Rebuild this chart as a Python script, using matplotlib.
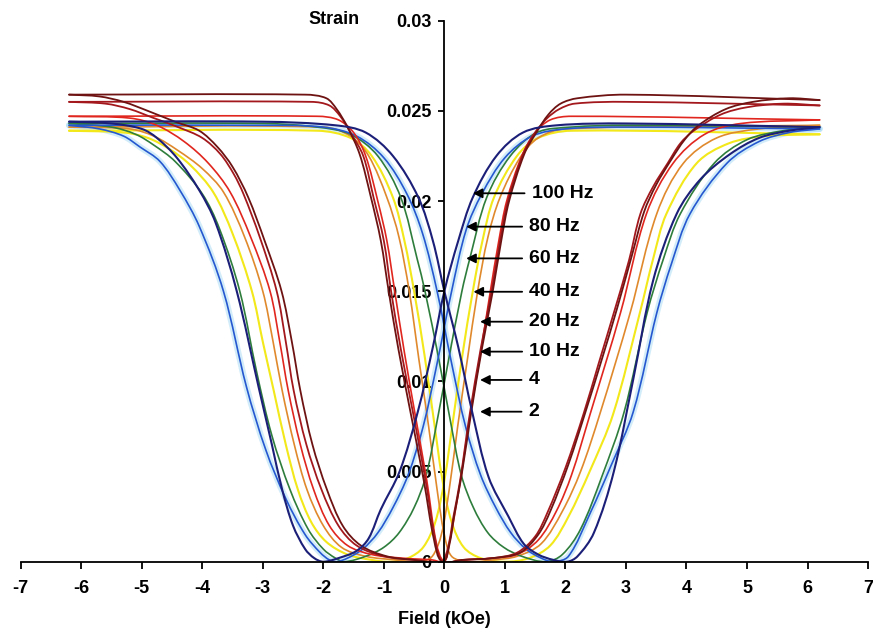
import numpy as np
import matplotlib
matplotlib.use('Agg')
import matplotlib.pyplot as plt
from matplotlib.path import Path
from matplotlib.patches import PathPatch

plt.rcParams['font.family'] = ['Liberation Sans', 'DejaVu Sans']
plt.rcParams['axes.unicode_minus'] = False

# ---------------- data (field kOe, strain) ----------------
freq_labels = ['100 Hz', '80 Hz', '60 Hz', '40 Hz', '20 Hz', '10 Hz', '4', '2']
line_colors = ['#1c1f78', '#2558d0', '#2e7d3c', '#f2e81a', '#e0892c', '#e0261e', '#a3181c', '#6e1212']

# branch with its minimum at negative field
hz100_neg = [(-6.2, .0244), (-5.5, .0243), (-5.0, .0240), (-4.75, .0235), (-4.42, .0224), (-4.05, .0206),
             (-3.78, .0188), (-3.43, .0150), (-3.07, .0097), (-2.85, .0065), (-2.68, .0040), (-2.5, .0020),
             (-2.3, .0007), (-2.15, .0002), (-2.0, .0000), (-1.75, .0002), (-1.45, .0006), (-1.25, .0013),
             (-1.05, .0029), (-0.74, .0050), (-0.44, .0083), (-0.19, .0119), (0.0, .0150), (0.23, .0178),
             (0.47, .0202), (0.86, .0225), (1.3, .0238), (1.86, .0242), (3.0, .0243), (6.2, .0241)]
# branch with its minimum at positive field
hz100_pos = [(-6.2, .0244), (-3.0, .0244), (-1.8, .0242), (-1.3, .0238), (-0.85, .0225), (-0.43, .0202),
             (-0.19, .0178), (0.0, .0150), (0.23, .0119), (0.46, .0083), (0.73, .0047), (1.06, .0025),
             (1.31, .0010), (1.55, .0004), (1.8, .0001), (2.03, .0000), (2.2, .0003), (2.47, .0016),
             (2.8, .0050), (3.12, .0101), (3.45, .0156), (3.84, .0193), (4.23, .0212), (4.72, .0226),
             (5.2, .0235), (5.7, .0239), (6.2, .0241)]

hz80_neg = [(-6.2, .0242), (-5.7, .0240), (-5.3, .0236), (-5.03, .0230), (-4.7, .0222), (-4.37, .0206),
            (-4.05, .0186), (-3.65, .0150), (-3.27, .0097), (-2.95, .0062), (-2.62, .0035), (-2.3, .0015),
            (-2.05, .0005), (-1.9, .0001), (-1.78, .0000), (-1.6, .0002), (-1.35, .0007), (-1.1, .0016),
            (-0.85, .0030), (-0.6, .0048), (-0.35, .0075), (-0.12, .0110), (0.12, .0150), (0.36, .0184),
            (0.62, .0204), (1.0, .0224), (1.45, .0236), (2.0, .0240), (3.0, .0241), (6.2, .0240)]
hz80_pos = [(-6.2, .0242), (-3.0, .0242), (-2.0, .0241), (-1.45, .0236), (-1.0, .0224), (-0.62, .0204),
            (-0.36, .0182), (-0.12, .0150), (0.12, .0110), (0.35, .0075), (0.6, .0048), (0.85, .0030),
            (1.1, .0016), (1.35, .0007), (1.6, .0002), (1.8, .0000), (2.05, .0003), (2.41, .0027),
            (2.75, .0053), (3.12, .0083), (3.51, .0138), (3.75, .0165), (4.06, .0193), (4.67, .0221),
            (5.2, .0233), (5.7, .0238), (6.2, .0240)]

hz60_neg = [(-6.2, .0243), (-5.5, .0241), (-5.1, .0237), (-4.8, .0231), (-4.45, .0222), (-4.0, .0204),
            (-3.72, .0185), (-3.38, .0150), (-3.1, .0105), (-2.85, .0070), (-2.55, .0040), (-2.25, .0018),
            (-2.0, .0007), (-1.8, .0002), (-1.65, .0000), (-1.3, .0003), (-1.0, .0008), (-0.75, .0016),
            (-0.5, .0030), (-0.3, .0048), (-0.12, .0078), (0.07, .0112), (0.29, .0150), (0.42, .0168),
            (0.7, .0202), (1.09, .0225), (1.53, .0238), (2.1, .0241), (3.0, .0242), (6.2, .0241)]
hz60_pos = [(-6.2, .0243), (-3.0, .0243), (-2.1, .0241), (-1.55, .0237), (-1.1, .0225), (-0.72, .0202),
            (-0.45, .0168), (-0.32, .0150), (-0.09, .0112), (0.1, .0078), (0.28, .0048), (0.48, .0030),
            (0.72, .0016), (0.98, .0008), (1.28, .0003), (1.68, .0000), (1.95, .0004), (2.25, .0018),
            (2.6, .0047), (2.97, .0083), (3.35, .0138), (3.62, .0168), (3.9, .0193), (4.46, .0221),
            (5.0, .0234), (5.6, .0239), (6.2, .0241)]

hz40_neg = [(-6.2, .0239), (-5.3, .0238), (-4.9, .0235), (-4.55, .0229), (-4.2, .0220), (-3.82, .0205),
            (-3.5, .0182), (-3.18, .0150), (-3.0, .0122), (-2.82, .0095), (-2.62, .0065), (-2.42, .0040),
            (-2.2, .0022), (-1.95, .0011), (-1.6, .0004), (-1.2, .0001), (-0.9, .0000), (-0.6, .0002),
            (-0.35, .0008), (-0.15, .0022), (0.0, .0045), (0.15, .0080), (0.3, .0115), (0.47, .0150),
            (0.63, .0178), (0.82, .0202), (1.2, .0225), (1.55, .0235), (2.1, .0239), (6.2, .0237)]
hz40_pos = [(-6.2, .0239), (-2.1, .0239), (-1.55, .0235), (-1.2, .0225), (-0.85, .0202), (-0.66, .0178),
            (-0.5, .0150), (-0.33, .0115), (-0.18, .0080), (-0.03, .0045), (0.12, .0022), (0.32, .0008),
            (0.6, .0002), (1.0, .0000), (1.4, .0002), (1.75, .0009), (2.05, .0025), (2.4, .0050),
            (2.79, .0082), (3.23, .0138), (3.45, .0168), (3.67, .0193), (4.17, .0221), (4.7, .0232),
            (5.3, .0236), (6.2, .0237)]

hz20_neg = [(-6.2, .0241), (-5.2, .0240), (-4.8, .0236), (-4.4, .0228), (-4.0, .0218), (-3.65, .0205),
            (-3.3, .0180), (-3.0, .0150), (-2.83, .0122), (-2.68, .0095), (-2.48, .0065), (-2.27, .0040),
            (-2.0, .0020), (-1.7, .0008), (-1.3, .0003), (-0.8, .0001), (-0.4, .0000), (-0.2, .0003),
            (-0.05, .0015), (0.08, .0040), (0.22, .0075), (0.38, .0112), (0.55, .0150), (0.72, .0180),
            (0.92, .0202), (1.25, .0224), (1.55, .0235), (2.0, .0240), (6.2, .0242)]
hz20_pos = [(-6.2, .0241), (-2.0, .0241), (-1.55, .0236), (-1.25, .0225), (-0.95, .0202), (-0.75, .0180),
            (-0.58, .0150), (-0.42, .0112), (-0.26, .0075), (-0.12, .0040), (0.0, .0015), (0.12, .0003),
            (0.4, .0000), (0.8, .0001), (1.2, .0003), (1.6, .0010), (1.95, .0028), (2.25, .0050),
            (2.57, .0082), (3.07, .0138), (3.51, .0193), (3.95, .0221), (4.5, .0235), (5.2, .0240),
            (6.2, .0242)]

hz10_neg = [(-6.2, .0247), (-5.2, .0246), (-4.75, .0242), (-4.3, .0233), (-3.9, .0221), (-3.54, .0205),
            (-3.2, .0180), (-2.88, .0150), (-2.72, .0122), (-2.58, .0095), (-2.38, .0065), (-2.16, .0040),
            (-1.9, .0020), (-1.6, .0009), (-1.2, .0004), (-0.7, .0002), (-0.2, .0001), (0.0, .0000),
            (0.08, .0010), (0.18, .0028), (0.28, .0048), (0.42, .0080), (0.6, .0116), (0.76, .0150),
            (0.9, .0178), (1.03, .0200), (1.28, .0225), (1.5, .0238), (1.75, .0245), (2.1, .0247),
            (6.2, .0245)]
hz10_pos = [(-6.2, .0247), (-2.1, .0247), (-1.75, .0245), (-1.5, .0238), (-1.3, .0225), (-1.1, .0200),
            (-0.95, .0178), (-0.82, .0150), (-0.66, .0116), (-0.49, .0083), (-0.29, .0045), (-0.13, .0010),
            (0.0, .0000), (0.3, .0001), (0.8, .0002), (1.2, .0004), (1.55, .0012), (1.85, .0028),
            (2.1, .0048), (2.41, .0082), (2.91, .0138), (3.34, .0193), (3.78, .0221), (4.3, .0237),
            (4.9, .0243), (6.2, .0245)]

hz4_neg = [(-6.2, .0255), (-5.6, .0254), (-5.2, .0251), (-4.8, .0246), (-4.4, .0241), (-4.0, .0235),
           (-3.7, .0226), (-3.48, .0215), (-3.32, .0204), (-3.05, .0180), (-2.77, .0150), (-2.62, .0122),
           (-2.49, .0095), (-2.28, .0065), (-2.03, .0040), (-1.75, .0020), (-1.45, .0009), (-1.0, .0003),
           (-0.5, .0001), (-0.05, .0000), (0.06, .0008), (0.15, .0025), (0.26, .0045), (0.42, .0082),
           (0.6, .0118), (0.78, .0150), (0.92, .0178), (1.05, .0200), (1.3, .0226), (1.5, .0238),
           (1.7, .0246), (1.9, .0251), (2.15, .0254), (3.0, .0255), (6.2, .0253)]
hz4_pos = [(-6.2, .0255), (-2.2, .0255), (-1.9, .0253), (-1.72, .0247), (-1.55, .0238), (-1.34, .0225),
           (-1.17, .0202), (-1.0, .0178), (-0.88, .0150), (-0.72, .0118), (-0.52, .0083), (-0.31, .0045),
           (-0.15, .0012), (-0.03, .0000), (0.3, .0001), (0.8, .0002), (1.2, .0005), (1.5, .0014),
           (1.7, .0027), (2.0, .0052), (2.3, .0082), (2.55, .0110), (2.8, .0138), (3.05, .0167),
           (3.24, .0193), (3.45, .0208), (3.69, .0221), (3.9, .0232), (4.12, .0239), (4.57, .0248),
           (5.0, .0252), (5.6, .0254), (6.2, .0253)]

hz2_neg = [(-6.2, .0259), (-5.7, .0258), (-5.3, .0255), (-4.9, .0250), (-4.45, .0244), (-4.05, .0239),
           (-3.75, .0230), (-3.5, .0219), (-3.24, .0202), (-2.97, .0178), (-2.69, .0150), (-2.52, .0122),
           (-2.38, .0095), (-2.18, .0065), (-1.94, .0040), (-1.68, .0020), (-1.38, .0009), (-0.95, .0003),
           (-0.5, .0001), (-0.02, .0000), (0.08, .0009), (0.17, .0027), (0.28, .0047), (0.44, .0082),
           (0.62, .0118), (0.8, .0150), (0.94, .0178), (1.07, .0200), (1.32, .0226), (1.52, .0238),
           (1.72, .0248), (1.92, .0254), (2.2, .0257), (3.0, .0259), (6.2, .0256)]
hz2_pos = [(-6.2, .0259), (-2.3, .0259), (-1.95, .0257), (-1.78, .0251), (-1.6, .0241), (-1.4, .0226),
           (-1.22, .0203), (-1.05, .0178), (-0.92, .0150), (-0.76, .0118), (-0.56, .0083), (-0.34, .0045),
           (-0.17, .0012), (-0.04, .0000), (0.3, .0001), (0.8, .0002), (1.25, .0005), (1.55, .0015),
           (1.75, .0028), (2.05, .0054), (2.35, .0085), (2.6, .0112), (2.85, .0140), (3.1, .0170),
           (3.3, .0194), (3.5, .0209), (3.75, .0223), (3.97, .0234), (4.2, .0242), (4.65, .0251),
           (5.1, .0255), (5.7, .0257), (6.2, .0256)]

field_ticks = [-7, -6, -5, -4, -3, -2, -1, 0, 1, 2, 3, 4, 5, 6, 7]
strain_ticks = [0, 0.005, 0.01, 0.015, 0.02, 0.025, 0.03]
strain_tick_labels = ['0', '0.005', '0.01', '0.015', '0.02', '0.025', '0.03']

branches = [(hz100_neg, hz100_pos), (hz80_neg, hz80_pos), (hz60_neg, hz60_pos), (hz40_neg, hz40_pos),
            (hz20_neg, hz20_pos), (hz10_neg, hz10_pos), (hz4_neg, hz4_pos), (hz2_neg, hz2_pos)]

# annotation layout: (text x, text y, arrow tip x)
annot_layout = [(1.44, 0.02043, 0.47), (1.40, 0.01858, 0.36), (1.40, 0.01682, 0.36), (1.40, 0.01497, 0.48),
                (1.40, 0.01331, 0.59), (1.40, 0.01165, 0.59), (1.39, 0.01008, 0.59), (1.39, 0.00832, 0.59)]

# ---------------- figure ----------------
fig = plt.figure(figsize=(8.73, 6.35), dpi=100)
ax = fig.add_axes([0.0237, 0.1154, 0.9706, 0.852])
ax.set_xlim(-7, 7)
ax.set_ylim(0, 0.03)

SX, SY = 60.5, 541 / 0.03   # approximate px per data unit, for chord lengths


def smooth_path(pts):
    """Bezier path through the measured points (smoothed-line rendering)."""
    p = np.asarray(pts, dtype=float)
    q = p * [SX, SY]
    d = np.sqrt(((q[1:] - q[:-1]) ** 2).sum(axis=1))
    t = np.concatenate([[0], np.cumsum(d)])
    n = len(p)
    m = np.zeros_like(p)
    for i in range(n):
        a, b = max(i - 1, 0), min(i + 1, n - 1)
        m[i] = (p[b] - p[a]) / (t[b] - t[a])
    verts = [tuple(p[0])]
    codes = [Path.MOVETO]
    for i in range(n - 1):
        dt = t[i + 1] - t[i]
        c1 = p[i] + m[i] * dt / 3
        c2 = p[i + 1] - m[i + 1] * dt / 3
        verts += [tuple(c1), tuple(c2), tuple(p[i + 1])]
        codes += [Path.CURVE4] * 3
    return Path(verts, codes)


def draw_branch(pts, **kw):
    patch = PathPatch(smooth_path(pts), fill=False, capstyle='round', joinstyle='round', **kw)
    ax.add_patch(patch)


# light-blue print halo around the 80 Hz curves
for br in branches[1]:
    draw_branch(br, edgecolor='#9dd6f3', lw=4.5, alpha=0.45, zorder=1)

line_widths = [1.5, 1.2, 1.2, 1.5, 1.2, 1.2, 1.3, 1.3]
draw_order = [3, 4, 2, 1, 5, 6, 7, 0]
for i in draw_order:
    for br in branches[i]:
        draw_branch(br, edgecolor=line_colors[i], lw=line_widths[i], zorder=2 + (i == 0))

for sp in ['top', 'right']:
    ax.spines[sp].set_visible(False)
ax.spines['left'].set_position(('data', 0))
ax.spines['left'].set_linewidth(1.3)
ax.spines['bottom'].set_linewidth(1.3)
ax.spines['left'].set_zorder(4)
ax.spines['bottom'].set_zorder(4)
ax.set_xticks(field_ticks)
ax.set_xticklabels([str(t) for t in field_ticks])
ax.set_yticks(strain_ticks)
ax.set_yticklabels(strain_tick_labels)
ax.tick_params(axis='x', direction='out', length=5, width=1.3, pad=8.5, labelsize=13)
ax.tick_params(axis='y', direction='out', length=4, width=1.3, pad=5, labelsize=13)
for lab in ax.get_xticklabels() + ax.get_yticklabels():
    lab.set_fontweight('bold')

for lab, (tx, ty, ax_tip) in zip(freq_labels, annot_layout):
    ax.annotate(lab, xy=(ax_tip, ty), xytext=(tx, ty), fontsize=14, fontweight='bold',
                ha='left', va='center', zorder=5,
                arrowprops=dict(arrowstyle='-|>', color='black', lw=1.3, mutation_scale=14,
                                shrinkA=3, shrinkB=0))

fig.text(334.5 / 873, 1 - 20 / 635, 'Strain', ha='center', va='center', fontsize=13, fontweight='bold')
fig.text(444 / 873, 1 - 620 / 635, 'Field (kOe)', ha='center', va='center', fontsize=13, fontweight='bold')

fig.savefig('out.png', dpi=100)
